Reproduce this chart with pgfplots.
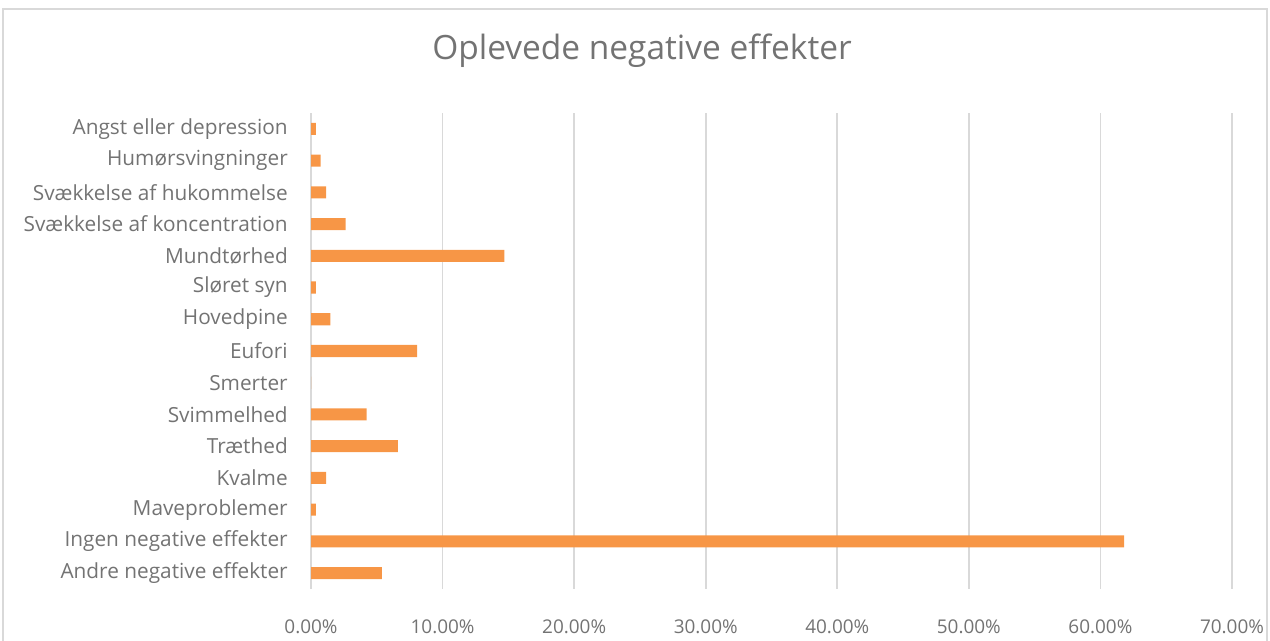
\documentclass[border=0pt]{standalone}
\usepackage{pgfplots}
\pgfplotsset{compat=1.18}
\usepackage{fontspec}
\setmainfont{Open Sans}
\definecolor{barorange}{HTML}{F79646}
\definecolor{txtgray}{HTML}{737373}
\definecolor{gridgray}{HTML}{D9D9D9}
\begin{document}
\begin{tikzpicture}
\path[use as bounding box] (0pt,0pt) rectangle (952.5pt,480.75pt);
\draw[gridgray, line width=0.9pt] (2.25pt,-5pt) -- (2.25pt,474pt) -- (950.25pt,474pt) -- (950.25pt,-5pt);
\node[text=txtgray, font=\fontsize{25.1}{30}\selectfont] at (481.5pt,442.5pt) {Oplevede negative effekter};
\begin{axis}[
  at={(233.25pt,39pt)}, anchor=south west,
  scale only axis,
  width=690.75pt, height=357pt,
  xbar, bar width=0.38,
  xmin=0, xmax=70,
  ymin=-0.5, ymax=14.5,
  xtick={0,10,20,30,40,50,60,70},
  xticklabels={0.00\%,10.00\%,20.00\%,30.00\%,40.00\%,50.00\%,60.00\%,70.00\%},
  ytick={0,...,14},
  yticklabels={Andre negative effekter,Ingen negative effekter,Maveproblemer,Kvalme,Træthed,Svimmelhed,Smerter,Eufori,Hovedpine,Sløret syn,Mundtørhed,Svækkelse af koncentration,Svækkelse af hukommelse,Humørsvingninger,Angst eller depression},
  axis line style={draw=none},
  major tick length=0pt,
  tick style={draw=none},
  xmajorgrids,
  grid style={gridgray, line width=1.2pt},
  ticklabel style={text=txtgray, inner sep=0pt},
  yticklabel style={anchor=east, xshift=-17.25pt, font=\fontsize{15.6}{18}\selectfont},
  xticklabel style={anchor=center, yshift=-28pt, font=\fontsize{14.2}{17}\selectfont},
]
\addplot[fill=barorange, draw=none] coordinates {
(5.38,0) (61.8,1) (0.37,2) (1.15,3) (6.6,4) (4.23,5) (0,6) (8.06,7) (1.48,8) (0.37,9) (14.7,10) (2.63,11) (1.15,12) (0.74,13) (0.37,14)
};
\end{axis}
\end{tikzpicture}
\end{document}
